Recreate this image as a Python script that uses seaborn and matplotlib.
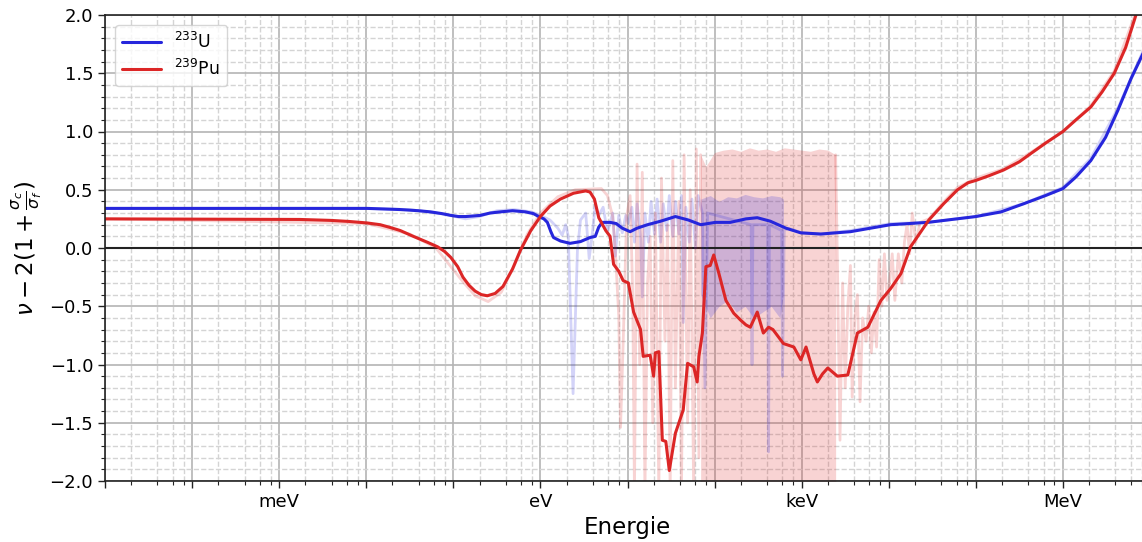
import matplotlib
matplotlib.use("Agg")
import matplotlib.pyplot as plt
from matplotlib.ticker import LogLocator, MultipleLocator, NullFormatter
import numpy as np
import pandas as pd
import seaborn as sns

# energies are given as log10(E / eV), values are nu - 2(1 + sigma_c/sigma_f)

# smoothed curves
u233_logE = [-5.0, -2.5, -1.99, -1.61, -1.4, -1.26, -1.13, -1.03, -0.94, -0.86, -0.77, -0.69, -0.58, -0.46,
             -0.32, -0.17, -0.08, -0.02, 0.04, 0.08, 0.12, 0.15,
             0.23, 0.34, 0.46, 0.57, 0.63, 0.67, 0.71, 0.80, 0.87, 0.94, 1.03, 1.11, 1.23, 1.38, 1.55,
             1.70, 1.84, 2.01, 2.18, 2.36, 2.49, 2.64, 2.82, 2.99, 3.22, 3.56, 3.79, 4.02, 4.45, 5.0,
             5.29, 5.55, 5.80, 6.0, 6.15, 6.32, 6.49, 6.63, 6.78, 6.92]
u233_val = [0.34, 0.34, 0.34, 0.33, 0.32, 0.31, 0.295, 0.28, 0.27, 0.27, 0.275, 0.28, 0.30, 0.31,
            0.32, 0.31, 0.295, 0.27, 0.25, 0.22, 0.14, 0.09,
            0.06, 0.04, 0.055, 0.09, 0.10, 0.18, 0.22, 0.22, 0.21, 0.17, 0.14, 0.17, 0.20, 0.23, 0.27,
            0.24, 0.20, 0.22, 0.22, 0.25, 0.26, 0.23, 0.17, 0.13, 0.12, 0.14, 0.17, 0.20, 0.22, 0.27,
            0.31, 0.38, 0.45, 0.51, 0.61, 0.75, 0.95, 1.18, 1.45, 1.67]

pu239_logE = [-5.0, -2.76, -2.41, -2.2, -1.99, -1.84, -1.72, -1.61, -1.46, -1.3, -1.18, -1.1, -1.03,
              -0.95, -0.89, -0.82, -0.75, -0.68, -0.61, -0.52,
              -0.43, -0.32, -0.23, -0.11, 0.0, 0.11, 0.23, 0.38, 0.52, 0.57, 0.62, 0.67, 0.75, 0.80,
              0.84, 0.90, 0.95, 1.01, 1.07, 1.15, 1.18, 1.26, 1.30, 1.32, 1.36, 1.40, 1.44, 1.48,
              1.55, 1.64, 1.69, 1.76, 1.80, 1.82, 1.86, 1.90, 1.95, 1.99, 2.05, 2.13, 2.22, 2.30,
              2.36, 2.41, 2.49, 2.56, 2.62, 2.67, 2.79, 2.91, 2.99, 3.05, 3.14, 3.18, 3.24, 3.30,
              3.41, 3.53, 3.64, 3.76, 3.91, 4.02, 4.14, 4.25, 4.46, 4.63, 4.79, 4.91, 5.0, 5.15,
              5.32, 5.5, 5.63, 5.8, 6.0, 6.15, 6.32, 6.45, 6.59, 6.72, 6.86]
pu239_val = [0.25, 0.245, 0.237, 0.228, 0.215, 0.20, 0.175, 0.15, 0.10, 0.05, 0.01, -0.03, -0.08,
             -0.16, -0.25, -0.32, -0.37, -0.40, -0.41, -0.39,
             -0.33, -0.18, -0.02, 0.15, 0.27, 0.36, 0.42, 0.47, 0.49, 0.48, 0.42, 0.26, 0.15, 0.10,
             -0.14, -0.20, -0.28, -0.30, -0.55, -0.70, -0.93, -0.92, -1.10, -0.90, -0.89, -1.65, -1.66, -1.91,
             -1.59, -1.39, -0.99, -1.02, -1.15, -0.93, -0.73, -0.16, -0.15, -0.06, -0.22, -0.45, -0.56, -0.62,
             -0.66, -0.68, -0.55, -0.73, -0.68, -0.70, -0.82, -0.85, -0.96, -0.85, -1.08, -1.15, -1.08, -1.03,
             -1.10, -1.09, -0.73, -0.68, -0.45, -0.35, -0.22, 0.01, 0.24, 0.38, 0.50, 0.56, 0.58, 0.62,
             0.67, 0.74, 0.81, 0.90, 1.00, 1.10, 1.21, 1.34, 1.50, 1.72, 2.05]

# unsmoothed data (faint lines)
u233_raw_logE = [-5.0, -2.0, -1.5, -1.1, -0.86, -0.7, -0.5, -0.3, -0.1, 0.0, 0.11, 0.20, 0.25, 0.29,
                 0.32, 0.375, 0.425, 0.46, 0.52, 0.56, 0.60, 0.63, 0.67, 0.72, 0.77, 0.83, 0.86, 0.90,
                 0.94, 0.98, 1.01, 1.05, 1.08, 1.11, 1.15, 1.17, 1.20, 1.24, 1.27, 1.31, 1.34, 1.38,
                 1.41, 1.45, 1.48, 1.52, 1.55, 1.59, 1.62, 1.64, 1.67, 1.71, 1.74, 1.78, 1.81, 1.86,
                 1.89, 1.92, 2.42, 2.43, 2.44, 2.61, 2.62, 2.63, 2.77, 2.78, 2.80, 2.85, 3.0, 3.22,
                 3.56, 4.02, 4.45, 5.0, 5.55, 6.0, 6.32, 6.63, 6.92]
u233_raw_val = [0.34, 0.34, 0.33, 0.29, 0.25, 0.27, 0.32, 0.33, 0.31, 0.28, 0.24, 0.17, 0.11, 0.20,
                0.10, -1.25, -0.02, 0.24, 0.30, -0.09, 0.15, 0.37, 0.28, 0.35, 0.14, 0.30, -0.07, 0.28,
                0.13, 0.28, 0.21, 0.35, 0.05, 0.38, 0.10, -0.42, 0.30, 0.05, 0.40, 0.12, 0.42, 0.05,
                0.38, 0.15, 0.45, 0.10, 0.40, 0.12, 0.45, -0.64, 0.35, 0.05, 0.42, 0.0, 0.45, 0.30,
                -1.2, 0.30, 0.20, -1.0, 0.20, 0.20, -1.75, 0.20, 0.15, -1.1, 0.15, 0.17, 0.13, 0.12,
                0.15, 0.21, 0.22, 0.27, 0.38, 0.52, 0.77, 1.20, 1.69]

pu239_raw_logE = [-5.0, -2.0, -1.5, -1.2, -0.9, -0.75, -0.6, -0.45, -0.3, -0.15, 0.0, 0.2, 0.4, 0.7,
                  0.77, 0.83, 0.86, 0.90, 0.92, 0.95, 0.99, 1.03, 1.06, 1.08, 1.11, 1.14, 1.17, 1.20,
                  1.23, 1.26, 1.29, 1.32, 1.36, 1.39, 1.43, 1.46, 1.49, 1.52, 1.55, 1.59, 1.62, 1.65,
                  1.69, 1.72, 1.76, 1.79, 1.82, 1.84]
pu239_raw_val = [0.25, 0.21, 0.12, 0.0, -0.28, -0.41, -0.46, -0.38, -0.15, 0.12, 0.30, 0.44, 0.50, 0.51,
                 0.45, 0.27, -0.02, -0.59, -1.54, -0.82, 0.27, 0.45, -0.4, -2.1, 0.72, -1.0, 0.65, -2.1,
                 -0.3, 0.1, -1.5, 0.3, -2.1, 0.6, -0.8, 0.2, -2.1, 0.75, -1.2, 0.4, -2.1, 0.8,
                 -1.5, 0.5, -2.1, 0.85, -1.8, 0.8]
pu239_raw2_logE = [3.39, 3.41, 3.44, 3.47, 3.50, 3.53, 3.56, 3.58, 3.61, 3.64, 3.67, 3.70, 3.74, 3.77,
                   3.80, 3.83, 3.86, 3.89, 3.92, 3.95, 3.98, 4.01, 4.04, 4.07, 4.11, 4.15, 4.18, 4.21,
                   4.24, 4.27, 4.31, 4.36, 4.46, 4.66, 4.79, 5.0, 5.32, 5.63, 6.0, 6.32, 6.59, 6.86]
pu239_raw2_val = [0.80, -0.1, -1.65, -0.3, -1.2, -0.5, -0.15, -1.28, -0.6, -0.4, -1.32, -0.6, -0.8, -0.5,
                  -0.9, -0.55, -0.85, -0.1, -0.5, -0.05, -0.45, -0.3, -0.05, -0.45, -0.05, -0.3, 0.05, 0.2,
                  -0.05, 0.30, 0.05, 0.22, 0.25, 0.42, 0.52, 0.60, 0.68, 0.82, 1.0, 1.22, 1.52, 2.07]

# dense resonance region: envelope of the unsmoothed data
pu239_band_logE = [1.84, 1.9, 2.0, 2.1, 2.2, 2.3, 2.4, 2.5, 2.6, 2.7, 2.8, 2.9, 3.0, 3.1, 3.2, 3.3, 3.39]
pu239_band_top = [0.80, 0.70, 0.82, 0.84, 0.85, 0.83, 0.86, 0.84, 0.85, 0.83, 0.86, 0.85, 0.84, 0.83, 0.85, 0.84, 0.80]
pu239_band_bottom = [-2.1] * 17
u233_band_logE = [1.84, 1.95, 2.05, 2.15, 2.25, 2.35, 2.45, 2.55, 2.65, 2.75, 2.79]
u233_band_top = [0.42, 0.45, 0.40, 0.44, 0.43, 0.46, 0.44, 0.43, 0.45, 0.44, 0.42]
u233_band_bottom = [-0.4, -0.6, -0.5, -0.45, -0.55, -0.5, -0.6, -0.55, -0.5, -0.6, -0.4]

labels = ["$^{233}$U", "$^{239}$Pu"]
colors = ["#2626dc", "#dc2626"]
tick_E = [1e-3, 1, 1e3, 1e6]
tick_names = ["meV", "eV", "keV", "MeV"]

smooth = pd.concat([
    pd.DataFrame({"E": np.power(10.0, u233_logE), "v": u233_val, "iso": labels[0]}),
    pd.DataFrame({"E": np.power(10.0, pu239_logE), "v": pu239_val, "iso": labels[1]}),
])

sns.set_style("ticks")
plt.rcParams.update({"text.color": "black", "axes.labelcolor": "black",
                     "xtick.color": "black", "ytick.color": "black"})
fig = plt.figure(figsize=(11.42, 5.42), dpi=100)
ax = fig.add_axes([105 / 1142, 61 / 542, 1045 / 1142, 466 / 542])

# faint raw data
for lx, ly, c in [(u233_raw_logE, u233_raw_val, colors[0]),
                  (pu239_raw_logE, pu239_raw_val, colors[1]),
                  (pu239_raw2_logE, pu239_raw2_val, colors[1])]:
    sns.lineplot(x=np.power(10.0, lx), y=ly, color=c, alpha=0.2, lw=2,
                 estimator=None, sort=False, legend=False, ax=ax)
ax.fill_between(np.power(10.0, pu239_band_logE), pu239_band_bottom, pu239_band_top,
                color=colors[1], alpha=0.2, lw=0)
ax.fill_between(np.power(10.0, u233_band_logE), u233_band_bottom, u233_band_top,
                color=colors[0], alpha=0.2, lw=0)

sns.lineplot(data=smooth, x="E", y="v", hue="iso", palette=colors, lw=2.2,
             estimator=None, sort=False, ax=ax)
ax.axhline(0, color="#222222", lw=1.5, zorder=1.8)

ax.set_xscale("log")
ax.set_xlim(1e-5, 1e7)
ax.set_ylim(-2, 2)
decades = np.power(10.0, np.arange(-5, 8))
ax.set_xticks(decades)
ax.set_xticklabels([tick_names[tick_E.index(d)] if d in tick_E else "" for d in decades])
ax.xaxis.set_minor_locator(LogLocator(base=10, subs=[2, 4, 6, 8], numticks=50))
ax.xaxis.set_minor_formatter(NullFormatter())
ax.yaxis.set_major_locator(MultipleLocator(0.5))
ax.yaxis.set_minor_locator(MultipleLocator(0.1))
ax.tick_params(which="major", length=5, width=1, labelsize=13, color="#222222")
ax.tick_params(which="minor", length=3, width=0.8, color="#222222")
ax.grid(which="major", color="#b4b4b4", lw=1.2, ls="-")
ax.grid(which="minor", color="#d4d4d4", lw=1.0, ls="--")
ax.set_axisbelow(True)
for s in ax.spines.values():
    s.set_color("#222222")
    s.set_linewidth(1.2)

ax.set_xlabel("Energie", fontsize=16.5)
ax.set_ylabel(r"$\nu - 2(1 + \frac{\sigma_c}{\sigma_f})$", fontsize=16.5)

handles, labs = ax.get_legend_handles_labels()
ax.legend(handles, labs, loc="upper left", fontsize=12.5, frameon=True,
          borderaxespad=0.6, handlelength=2.2, labelspacing=0.35)

fig.savefig("out.png", dpi=100)
